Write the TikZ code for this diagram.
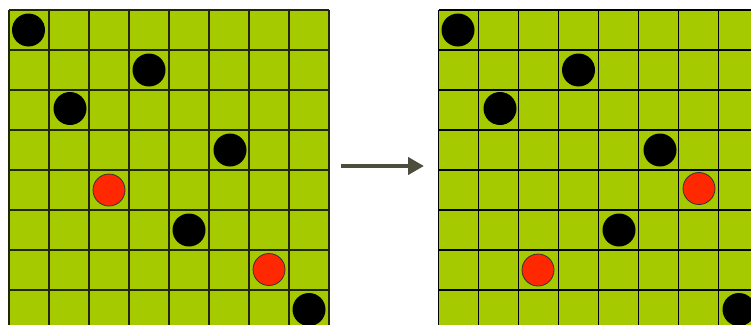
\documentclass[tikz,border=0pt]{standalone}
\usetikzlibrary{arrows.meta}
\definecolor{board}{RGB}{165,203,0}
\definecolor{gridL}{RGB}{35,38,5}
\definecolor{discred}{RGB}{255,40,0}
\definecolor{arrowc}{RGB}{77,77,62}
\tikzset{
  blackdisc/.style={circle,fill=black,draw=none,minimum size=33pt,inner sep=0pt},
  reddisc/.style={circle,fill=discred,draw=black!80,line width=0.8pt,minimum size=32pt,inner sep=0pt},
  gridline/.style={line width=1.4pt},
  movearrow/.style={draw=arrowc,line width=4.5pt,-{Triangle[length=16pt,width=17pt]}}
}
\begin{document}
\begin{tikzpicture}[x=1pt,y=-1pt]
\useasboundingbox (0,0) rectangle (751,324);
\clip (0,0) rectangle (751,324);
% left board
\fill[board] (9,10) rectangle (329,330);
\foreach \i in {0,...,8} {
  \draw[gridline,draw=gridL] (9+40*\i,10) -- (9+40*\i,330);
  \draw[gridline,draw=gridL] (9,10+40*\i) -- (329,10+40*\i);
}
% right board
\fill[board] (438.5,10) rectangle (758.5,330);
\foreach \i in {0,...,8} {
  \draw[gridline,draw=black] (438.5+40*\i,10) -- (438.5+40*\i,330);
  \draw[gridline,draw=black] (438.5,10+40*\i) -- (758.5,10+40*\i);
}
% left discs
\node[blackdisc] (l0) at (28.5,30) {};
\node[blackdisc] (l1) at (149,70) {};
\node[blackdisc] (l2) at (70,108.5) {};
\node[blackdisc] (l3) at (230,150) {};
\node[reddisc]   (l4) at (109,190) {};
\node[blackdisc] (l5) at (189,230) {};
\node[reddisc]   (l6) at (269,269.5) {};
\node[blackdisc] (l7) at (309,309.5) {};
% right discs
\node[blackdisc] (r0) at (458,30) {};
\node[blackdisc] (r1) at (578.5,70) {};
\node[blackdisc] (r2) at (500,108.5) {};
\node[blackdisc] (r3) at (660,150) {};
\node[reddisc]   (r4) at (699,188.5) {};
\node[blackdisc] (r5) at (619,230) {};
\node[reddisc]   (r6) at (538,270) {};
\node[blackdisc] (r7) at (739,309.5) {};
% arrow
\coordinate (as) at (341,166);
\coordinate (ae) at (424,166);
\draw[movearrow] (as) -- (ae);
\end{tikzpicture}
\end{document}
